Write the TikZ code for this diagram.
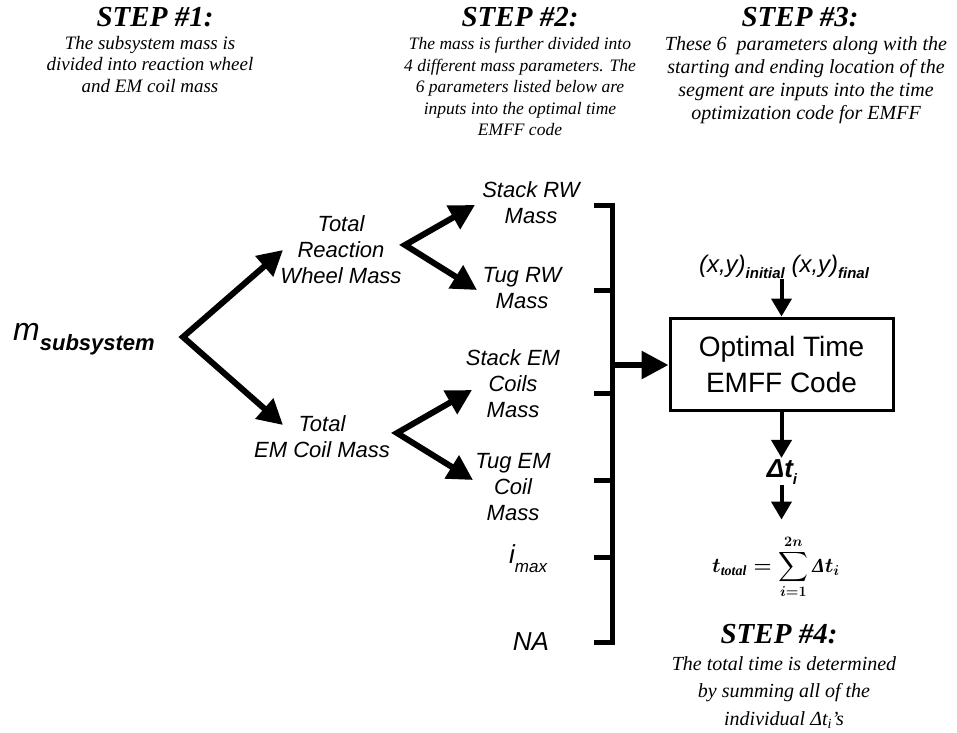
\documentclass[tikz,border=0pt]{standalone}
\usepackage{fontspec}
\setmainfont{Liberation Serif}
\setsansfont{Liberation Sans}
\usepackage{amsmath}
\usetikzlibrary{arrows.meta,positioning}

\begin{document}
\begin{tikzpicture}[x=1pt, y=-1pt, every node/.style={inner sep=1pt}]
  \tikzstyle{steptitle}=[font=\fontsize{29}{30}\selectfont\bfseries\itshape]
  \tikzstyle{stepnote}=[font=\fontsize{19}{21.5}\selectfont\itshape, align=center, anchor=north]
  \tikzstyle{mass}=[font=\sffamily\itshape\fontsize{22}{26}\selectfont, align=center]
  \tikzstyle{codebox}=[draw, line width=3pt, font=\sffamily\fontsize{28}{36}\selectfont,
                       align=center, minimum width=223pt, minimum height=92pt]
  \tikzstyle{bigarrow}=[line width=6pt, {Triangle[length=25pt,width=26pt]}-{Triangle[length=25pt,width=26pt]}]
  \tikzstyle{outarrow}=[line width=6pt, -{Triangle[length=27pt,width=27pt]}]
  \tikzstyle{smallarrow}=[line width=4pt, -{Triangle[length=18pt,width=20pt]}]
  \tikzstyle{bracket}=[line width=5pt]
  \useasboundingbox (0,0) rectangle (957,732);

  % step texts
  \node[steptitle] (s1) at (155,17) {STEP \#1:};
  \node[stepnote] (n1) at (150,35) {The subsystem mass is\\divided into reaction wheel\\and EM coil mass};
  \node[steptitle] (s2) at (520,17) {STEP \#2:};
  \node[stepnote, font=\fontsize{17.5}{21.5}\selectfont\itshape] (n2) at (520,36) {The mass is further divided into\\4 different mass parameters. The\\6 parameters listed below are\\inputs into the optimal time\\EMFF code};
  \node[steptitle] (s3) at (800,17) {STEP \#3:};
  \node[stepnote, font=\fontsize{20}{23}\selectfont\itshape] (n3) at (806,35) {These 6\ \ parameters along with the\\starting and ending location of the\\segment are inputs into the time\\optimization code for EMFF};

  % mass tree
  \node[anchor=base west, font=\sffamily\itshape] (msub) at (12,340)
    {\fontsize{32}{32}\selectfont m\raisebox{-10pt}{\bfseries\fontsize{22}{22}\selectfont subsystem}};
  \node[mass] (trw)   at (341,250) {Total\\Reaction\\Wheel Mass};
  \node[mass] (tem)   at (322,437) {Total\\EM Coil Mass};
  \node[mass] (srw)   at (531,203) {Stack RW\\Mass};
  \node[mass] (tugrw) at (522,288) {Tug RW\\Mass};
  \node[mass] (sem)   at (513,384) {Stack EM\\Coils\\Mass};
  \node[mass] (tugem) at (513,487) {Tug EM\\Coil\\Mass};
  \node[anchor=base west, font=\sffamily\itshape] (imax) at (508,563)
    {\fontsize{26}{26}\selectfont i\raisebox{-9pt}{\fontsize{17}{17}\selectfont max}};
  \node[anchor=base, font=\sffamily\itshape\fontsize{26}{26}\selectfont] (na) at (531,650) {NA};

  \coordinate (v0) at (183,337);
  \coordinate (a1) at (283,250);
  \coordinate (a2) at (283,425);
  \coordinate (v1) at (405,245);
  \coordinate (a3) at (475,205);
  \coordinate (a4) at (477,290);
  \coordinate (v2) at (397,433);
  \coordinate (a5) at (472,390);
  \coordinate (a6) at (473,480);
  \draw[bigarrow] (a1) -- (v0) -- (a2);
  \draw[bigarrow] (a3) -- (v1) -- (a4);
  \draw[bigarrow] (a5) -- (v2) -- (a6);

  % bracket
  \coordinate (btop) at (612,205);
  \coordinate (bbot) at (612,642);
  \coordinate (bmid) at (612,365);
  \draw[bracket] (594,205) -- (btop) -- (bbot) -- (594,642);
  \foreach \y in {290,393,480,557}
    \draw[bracket] (594,\y) -- (612,\y);

  % optimal time code
  \node[codebox] (box) at (781.5,364) {Optimal Time\\EMFF Code};
  \draw[outarrow] (bmid) -- (bmid -| box.west);
  \node[anchor=base, font=\sffamily\itshape] (xy) at (784,272)
    {\fontsize{24}{24}\selectfont (x,y)\raisebox{-6pt}{\bfseries\fontsize{15}{15}\selectfont initial} (x,y)\raisebox{-6pt}{\bfseries\fontsize{15}{15}\selectfont final}};
  \draw[smallarrow] (box.north |- xy.south) -- (box.north);
  \node[anchor=base, font=\sffamily\bfseries\itshape] (dt) at (782,477)
    {\fontsize{26}{26}\selectfont Δt\raisebox{-7pt}{\fontsize{15}{15}\selectfont i}};
  \draw[smallarrow] (box.south) -- (box.south |- dt.north);
  \node[anchor=base, font=\fontsize{20}{24}\selectfont\boldmath] (sum) at (776,572)
    {$t_{\mathit{total}} = \displaystyle\sum_{i=1}^{2n} \textbf{\textit{Δ}}t_i$};
  \draw[smallarrow, shorten >=14pt] (box.south |- dt.south) -- (box.south |- sum.north);

  % step 4
  \node[steptitle] (s4) at (779,634) {STEP \#4:};
  \node[stepnote, font=\fontsize{20}{27.5}\selectfont\itshape] (n4) at (784,655) {The total time is determined\\by summing all of the\\individual Δt\textsubscript{i}'s};
\end{tikzpicture}
\end{document}
